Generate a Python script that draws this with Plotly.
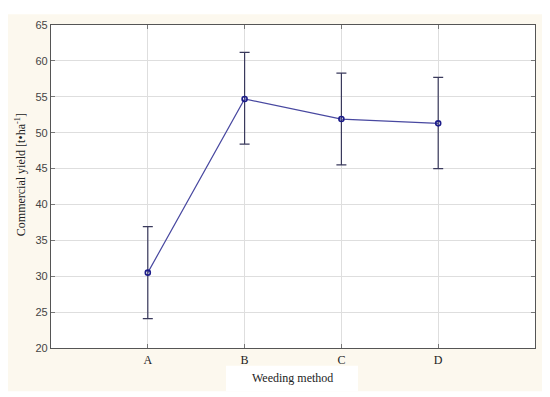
import plotly.graph_objects as go

categories = ["A", "B", "C", "D"]
means = [30.5, 54.7, 51.9, 51.3]
upper = [36.9, 61.2, 58.3, 57.7]
lower = [24.1, 48.4, 45.5, 45.0]
y_ticks = [20, 25, 30, 35, 40, 45, 50, 55, 60, 65]

err_plus = [u - m for u, m in zip(upper, means)]
err_minus = [m - l for m, l in zip(means, lower)]
xpos = list(range(len(categories)))

# page body has an 8px margin; figure coordinates = screen - 8
PW, PH = 484, 329
L, T = 43, 11


def px(fx):
    return (fx - L) / PW


def py(fy):
    return (T + PH - fy) / PH


fig = go.Figure()
fig.add_trace(go.Scatter(
    x=xpos, y=means, mode="lines+markers",
    line=dict(color="#4848a0", width=1.2),
    marker=dict(symbol="circle-open", size=5, color="#1c1c8a", line=dict(width=1.6, color="#1c1c8a")),
    error_y=dict(type="data", symmetric=False, array=err_plus, arrayminus=err_minus,
                 color="#3a3a5c", thickness=1.2, width=5),
    showlegend=False,
))

fig.update_layout(
    width=542, height=389,
    margin=dict(l=L, r=542 - L - PW, t=T, b=389 - T - PH),
    paper_bgcolor="white",
    plot_bgcolor="white",
    font=dict(family="Liberation Serif", size=11, color="#222"),
    shapes=[
        dict(type="rect", xref="paper", yref="paper", layer="below",
             x0=px(0), x1=px(537), y0=py(384), y1=py(0),
             fillcolor="#fcf8ee", line=dict(width=0)),
        dict(type="rect", xref="paper", yref="paper", layer="below",
             x0=0, x1=1, y0=0, y1=1,
             fillcolor="white", line=dict(width=0)),
        dict(type="rect", xref="paper", yref="paper", layer="below",
             x0=px(218), x1=px(350), y0=py(384), y1=py(358),
             fillcolor="white", line=dict(width=0)),
    ],
    annotations=[
        dict(text="Weeding method", xref="paper", yref="paper", x=px(284), y=py(371),
             showarrow=False, font=dict(family="Liberation Serif", size=12, color="#222"),
             xanchor="center", yanchor="middle"),
        dict(text="Commercial yield [t•ha<sup>-1</sup>]", xref="paper", yref="paper",
             x=px(12), y=py(164), textangle=-90, showarrow=False,
             font=dict(family="Liberation Serif", size=12, color="#222"),
             xanchor="center", yanchor="middle"),
    ],
)

fig.update_xaxes(
    range=[-1, 4], tickmode="array", tickvals=xpos, ticktext=categories,
    showgrid=True, gridcolor="#dedede", gridwidth=1,
    showline=True, linecolor="#555", linewidth=1.2, mirror="ticks",
    ticks="inside", ticklen=4, tickcolor="#777",
    tickfont=dict(family="Liberation Serif", size=12, color="#222"),
    zeroline=False,
)
fig.update_yaxes(
    range=[20, 65], tickmode="array", tickvals=y_ticks,
    showgrid=True, gridcolor="#dedede", gridwidth=1,
    showline=True, linecolor="#555", linewidth=1.2, mirror="ticks",
    ticks="inside", ticklen=4, tickcolor="#777",
    tickfont=dict(family="Liberation Sans", size=11, color="#444"),
    zeroline=False,
)

fig.write_html("out.html")
